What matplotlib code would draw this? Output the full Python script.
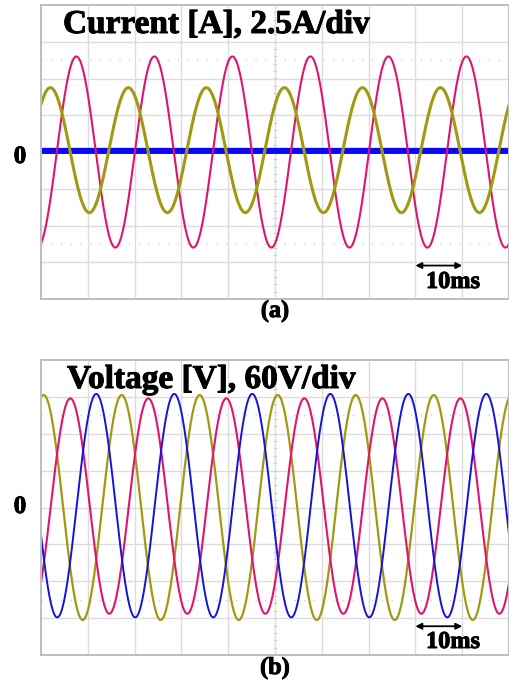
import numpy as np
import matplotlib
matplotlib.use("Agg")
import matplotlib.pyplot as plt
import matplotlib.patheffects as pe

# ---- data (units: time in ms, level in divisions) ----
period_ms = 16.67          # 60 Hz waveforms, 10 ms/div
time_span_ms = [0, 100]

current_names = ["i_blue", "i_magenta", "i_yellow"]
current_colors = ["#0a0af0", "#e0146e", "#a09a12"]
current_amp_div = [0.0, 2.6, 1.7]
current_peak_ms = [0.0, 7.55, 2.0]
current_offset_div = [0.03, 0.0, 0.05]
current_lw = [4.4, 1.5, 2.2]

voltage_names = ["v_yellow", "v_magenta", "v_blue"]
voltage_colors = ["#a09a12", "#e0146e", "#1414d8"]
voltage_amp_div = [3.05, 2.92, 3.03]
voltage_peak_ms = [0.57, 6.26, 11.8]
voltage_offset_div = [0.0, 0.04, 0.05]
voltage_lw = [1.6, 1.5, 1.4]

W, H = 510, 688
fig = plt.figure(figsize=(W / 100, H / 100), dpi=100)
fig.patch.set_facecolor("white")

serif = ["Liberation Serif", "DejaVu Serif"]


def px_axes(x0, y0, x1, y1):
    return fig.add_axes([x0 / W, 1 - y1 / H, (x1 - x0) / W, (y1 - y0) / H])


def scope(ax):
    ax.set_xlim(0, 10)
    ax.set_ylim(-4, 4)
    for v in range(1, 10):
        ax.axvline(v, color="#dcdcdc", lw=1.0, zorder=0)
    for v in range(-3, 4):
        ax.axhline(v, color="#dcdcdc", lw=1.0, zorder=0)
    for v in (-2.5, 2.5):
        ax.axhline(v, color="#cfcfcf", lw=1.0, ls=(0, (1, 6)), zorder=0)
    mt = np.arange(-4, 4.01, 0.2)
    ax.plot(np.full_like(mt, 5.0), mt, ls="none", marker="_", ms=3,
            color="#d2d2d2", mew=0.8, zorder=0)
    ax.set_xticks([])
    ax.set_yticks([])
    for s in ax.spines.values():
        s.set_color("#bdbdbd")
        s.set_linewidth(1.4)


t = np.linspace(time_span_ms[0], time_span_ms[1], 3000)
tdiv = t / 10.0

# ---- panel (a): currents ----
axa = px_axes(41, 5, 509, 299)
scope(axa)
for name, c, a, p, o, lw in zip(current_names, current_colors, current_amp_div,
                                current_peak_ms, current_offset_div, current_lw):
    y = o + a * np.cos(2 * np.pi * (t - p) / period_ms)
    axa.plot(tdiv, y, color=c, lw=lw, zorder=2, solid_capstyle="butt")
axa.annotate("", xy=(8.0, -3.09), xytext=(9.0, -3.09),
             arrowprops=dict(arrowstyle="<|-|>", color="black", lw=1.3,
                             mutation_scale=9, shrinkA=0, shrinkB=0))

# ---- panel (b): voltages ----
axb = px_axes(41, 360, 509, 655)
scope(axb)
for name, c, a, p, o, lw in zip(voltage_names, voltage_colors, voltage_amp_div,
                                voltage_peak_ms, voltage_offset_div, voltage_lw):
    y = o + a * np.cos(2 * np.pi * (t - p) / period_ms)
    axb.plot(tdiv, y, color=c, lw=lw, zorder=2)
axb.annotate("", xy=(8.0, -3.22), xytext=(9.0, -3.22),
             arrowprops=dict(arrowstyle="<|-|>", color="black", lw=1.3,
                             mutation_scale=9, shrinkA=0, shrinkB=0))

heavy = [pe.withStroke(linewidth=0.7, foreground="black")]


def ftext(x, y, s, size, ha="left"):
    fig.text(x / W, 1 - y / H, s, fontsize=size, fontweight="bold",
             family=serif, ha=ha, va="baseline", color="black",
             path_effects=heavy)


ftext(63, 33, "Current [A], 2.5A/div", 24)
ftext(67, 388, "Voltage [V], 60V/div", 24)
ftext(20, 163, "0", 18, ha="center")
ftext(20, 513, "0", 18, ha="center")
ftext(426, 288, "10ms", 17.5)
ftext(426, 648, "10ms", 17.5)
ftext(275, 317, "(a)", 17.5, ha="center")
ftext(275, 674, "(b)", 17.5, ha="center")

fig.savefig("out.png", dpi=100, facecolor="white")
